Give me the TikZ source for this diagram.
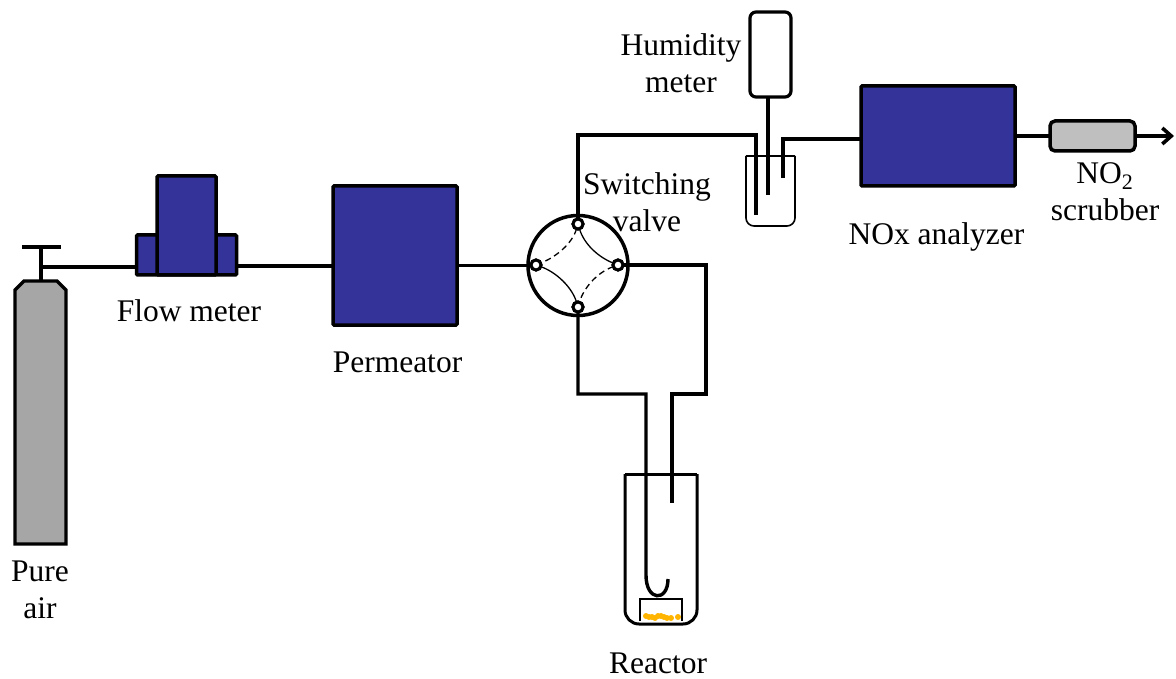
\documentclass[tikz,border=0pt]{standalone}
\usepackage{fontspec}
\setmainfont{Liberation Serif}
\usepackage{tikz}
\usetikzlibrary{arrows.meta,positioning}
\definecolor{unitblue}{HTML}{333399}
\definecolor{tankgray}{HTML}{A6A6A6}
\definecolor{scrubgray}{HTML}{BFBFBF}
\definecolor{sample}{HTML}{FFB400}

\begin{document}
\begin{tikzpicture}[
  x=1pt, y=-1pt,
  unit/.style={draw, line width=3.5pt, fill=unitblue, inner sep=0pt, outer sep=0pt, rounded corners=1pt},
  vessel/.style={draw, line width=1.6pt, fill=none, inner sep=0pt, outer sep=0pt},
  port/.style={draw, circle, fill=white, line width=3pt, minimum size=10pt, inner sep=0pt, outer sep=0pt},
  pipe/.style={line width=3.4pt, line join=miter},
  lbl/.style={align=center, inner sep=0pt, font=\fontsize{31.5}{37}\selectfont}
]
  \useasboundingbox (0,0) rectangle (1176,679);

  % cylinder
  \coordinate (tankneck) at (41,282);
  \coordinate (tanktee) at (41,267);
  \coordinate (tanktop) at (41,247);
  \draw[pipe, fill=tankgray] (15,544) -- (15,290) -- (24,281) -- (57,281) -- (66,290) -- (66,544) -- cycle;
  \draw[line width=3.4pt] (22,247) -- (61,247);

  % main row
  \node[unit, minimum width=100pt, minimum height=40pt] (flowbase) at (186.5,255) {};
  \node[unit, minimum width=59pt, minimum height=99pt] (flowtop) at (186.5,225.5) {};
  \node[unit, minimum width=124pt, minimum height=139pt] (perm) at (395,255.5) {};
  \node[draw, circle, line width=3.5pt, minimum size=100pt, inner sep=0pt, outer sep=0pt] (valve) at (578,265.5) {};
  \node[unit, minimum width=154pt, minimum height=100pt] (nox) at (938,136) {};
  \node[draw, line width=3.5pt, fill=scrubgray, rounded corners=5pt, minimum width=85pt, minimum height=30pt, inner sep=0pt, outer sep=0pt] (scrub) at (1092.5,136) {};
  \coordinate (vent) at (1174,136);

  % valve ports
  \node[port] (porttop) at (578,224) {};
  \node[port] (portleft) at (536,265) {};
  \node[port] (portright) at (618,265) {};
  \node[port] (portbot) at (578,307) {};

  \draw[line width=1.3pt] (porttop) .. controls (584,244) and (598,257) .. (portright);
  \draw[line width=1.3pt] (portleft) .. controls (556,272) and (572,287) .. (portbot);
  \draw[line width=1.3pt, dash pattern=on 6pt off 4pt] (porttop) .. controls (572,244) and (556,257) .. (portleft);
  \draw[line width=1.3pt, dash pattern=on 6pt off 4pt] (portright) .. controls (598,272) and (584,287) .. (portbot);

  % humidity trap
  \node[draw, line width=3.2pt, rounded corners=6pt, minimum width=41pt, minimum height=85pt, inner sep=0pt, outer sep=0pt] (hum) at (770.5,54.5) {};
  \coordinate (probe) at (768,195);
  \coordinate (trapin) at (756,215);
  \coordinate (trapout) at (783,178);
  \draw[vessel, rounded corners=8pt] (746,156) -- (746,226) -- (795,226) -- (795,156);
  \draw[line width=1.6pt] (746,156) -- (795,156);

  % reactor
  \coordinate (reacout) at (672,503);
  \coordinate (hookend) at (668,579);
  \draw[line width=3pt, line join=round] (625,474) -- (697,474);
  \draw[line width=3pt, rounded corners=14pt] (625,474) -- (625,624) -- (697,624) -- (697,474);
  \draw[line width=1.5pt] (640,621) -- (640,599) -- (682,599) -- (682,621);
  \foreach \dx/\dy in {646/616,649/617,652/617,655/618,658/616,661/616,664/617,667/618,671/618,678/617}
    \fill[sample] (\dx,\dy) circle (3pt);

  % pipes
  \draw[pipe] (tankneck) -- (tanktop);
  \draw[pipe] (tanktee) -- (136,267);
  \draw[pipe] (flowbase.east |- 0,266) -- (perm.west |- 0,266);
  \draw[pipe] (perm.east |- valve.west) -- (valve.west);
  \draw[pipe] (porttop) -- (578,135) -- (trapin |- 0,135) -- (trapin);
  \draw[pipe] (hum.south -| probe) -- (probe);
  \draw[pipe] (trapout) -- (783,139) -- (nox.west |- 0,139);
  \draw[pipe] (nox.east |- scrub) -- (scrub);
  \draw[pipe, line width=3.6pt, -{Straight Barb[length=9pt,width=16pt]}] (scrub) -- (vent);
  \draw[pipe] (portright) -- (706,265) -- (706,394) -- (672,394) -- (reacout);
  \draw[pipe] (portbot) -- (578,394) -- (646,394) -- (646,575) .. controls (646,602) and (668,602) .. (hookend);
  \node[port] at (porttop) {};
  \node[port] at (portleft) {};
  \node[port] at (portright) {};
  \node[port] at (portbot) {};
  \draw[pipe] (valve.west) -- (portleft.west);

  % labels
  \node[lbl, below=24pt of flowbase, xshift=2.5pt] (flowlbl) {Flow meter};
  \node[lbl, below=27pt of perm, xshift=2.5pt] (permlbl) {Permeator};
  \node[lbl] (switchlbl) at (647,202) {Switching\\valve};
  \node[lbl] (humlbl) at (681,63) {Humidity\\meter};
  \node[lbl, below=36pt of nox, xshift=-1.5pt] (noxlbl) {NOx analyzer};
  \node[lbl] (scrublbl) at (1105,192) {NO\textsubscript{2}\\scrubber};
  \node[lbl] (purelbl) at (40,590) {Pure\\air};
  \node[lbl] (reaclbl) at (658,663) {Reactor};
\end{tikzpicture}
\end{document}
